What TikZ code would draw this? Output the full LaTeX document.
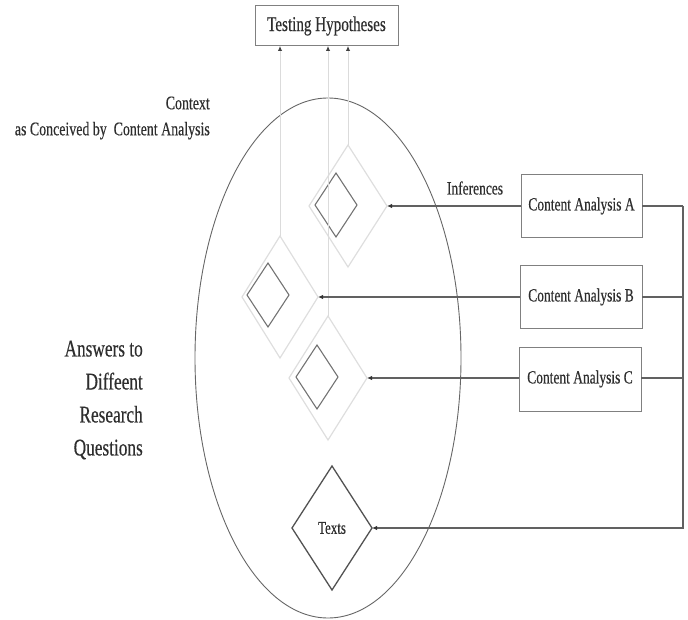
\documentclass[tikz,border=0pt]{standalone}
\usepackage{fontspec}
\setmainfont{Liberation Serif}[FakeStretch=0.72,FakeBold=0.35]
\usetikzlibrary{arrows.meta,shapes.geometric}
\begin{document}
\begin{tikzpicture}[x=1pt,y=-1pt,
  txt/.style={text=black!82, inner sep=0pt},
  box/.style={draw=black!50, line width=1pt, fill=white, inner sep=0pt, outer sep=0pt, text=black!82},
  outerdia/.style={diamond, draw=black!13, line width=1.2pt, inner sep=0pt, outer sep=0pt},
  innerdia/.style={diamond, draw=black!55, line width=1.1pt, inner sep=0pt, outer sep=0pt},
  feed/.style={draw=black!62, line width=1.4pt,
     -{Latex[length=5pt,width=4.5pt,color=black!80,fill=black!80]}},
  rail/.style={draw=black!62, line width=1.4pt},
  upline/.style={draw=black!14, line width=0.9pt,
     -{Latex[length=5pt,width=4.5pt,color=black!75,fill=black!75]}}]
\useasboundingbox (0,0) rectangle (688,620);

% context ellipse
\node[ellipse, draw=black!60, line width=0.9pt, minimum width=266pt, minimum height=520pt, inner sep=0pt] (ctx) at (328,358) {};

% diamonds
\node[outerdia, minimum width=78pt, minimum height=122pt] (D1) at (348,206) {};
\node[innerdia, minimum width=42pt, minimum height=64pt] (d1) at (336,205) {};
\node[outerdia, minimum width=76pt, minimum height=122pt] (D2) at (280,297) {};
\node[innerdia, minimum width=42pt, minimum height=64pt] (d2) at (268,295) {};
\node[outerdia, minimum width=78pt, minimum height=124pt] (D3) at (328,378) {};
\node[innerdia, minimum width=42pt, minimum height=64pt] (d3) at (317,377) {};
\node[diamond, draw=black!68, line width=1.3pt, minimum width=80pt, minimum height=124pt, inner sep=0pt, outer sep=0pt, text=black!82, font=\fontsize{18}{20}\selectfont] (T) at (332,528) {Texts};

% boxes
\node[box, minimum width=143pt, minimum height=40pt, font=\fontsize{21}{22}\selectfont] (H) at (326.5,26) {Testing Hypotheses};
\node[box, minimum width=121pt, minimum height=63pt, font=\fontsize{18.7}{20}\selectfont] (A) at (581.5,206) {Content Analysis A};
\node[box, minimum width=122pt, minimum height=63pt, font=\fontsize{18.7}{20}\selectfont] (B) at (581,297) {Content Analysis B};
\node[box, minimum width=122pt, minimum height=64pt, font=\fontsize{18.7}{20}\selectfont] (C) at (580,379) {Content Analysis C};

% labels
\node[txt, anchor=east, align=right, font=\fontsize{19.3}{26}\selectfont] (lctx) at (210,118) {Context\\as Conceived by\ \ Content Analysis};
\node[txt, anchor=east, align=right, font=\fontsize{24}{33}\selectfont] (lans) at (143,400) {Answers to\\Diffeent\\Research\\Questions};
\node[txt, font=\fontsize{18.7}{20}\selectfont] (linf) at (475,188) {Inferences};

% up lines to hypotheses
\draw[upline] (D2.north) -- (D2.north |- H.south);
\draw[upline] (D3.north) -- (D3.north |- H.south);
\draw[upline] (D1.north) -- (D1.north |- H.south);

% inference arrows
\draw[feed] (A.west) -- (D1.east);
\draw[feed] (B.west) -- (D2.east);
\draw[feed] (C.west |- D3.east) -- (D3.east);

% right rail to texts
\coordinate (r1) at (683,206);
\draw[rail] (A.east) -- (r1);
\draw[rail] (B.east) -- (B.east -| r1);
\draw[rail] (C.east |- D3.east) -- (r1 |- D3.east);
\draw[feed] (r1) |- (T.east);
\end{tikzpicture}
\end{document}
